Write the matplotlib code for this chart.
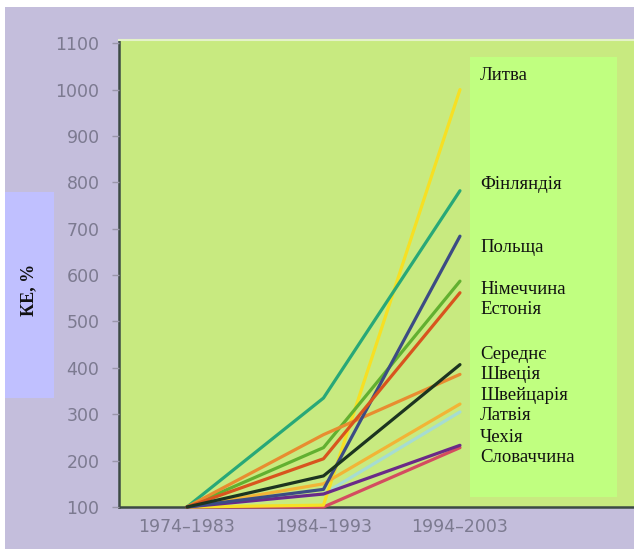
import matplotlib
matplotlib.use("Agg")
import matplotlib.pyplot as plt
from matplotlib.patches import Rectangle

# ---- data ----
periods = ['1974–1983', '1984–1993', '1994–2003']
countries = ['Литва', 'Фінляндія', 'Польща', 'Німеччина', 'Естонія',
             'Середнє', 'Швеція', 'Швейцарія', 'Латвія', 'Чехія', 'Словаччина']
lithuania = [100, 104, 1000]
finland = [100, 335, 782]
poland = [100, 138, 684]
germany = [100, 228, 587]
estonia = [100, 204, 562]
average = [100, 167, 407]
sweden = [100, 256, 386]
switzerland = [100, 150, 322]
latvia = [100, 128, 305]
czech = [100, 128, 233]
slovakia = [100, 100, 228]
yticks = [100, 200, 300, 400, 500, 600, 700, 800, 900, 1000, 1100]

series = [lithuania, finland, poland, germany, estonia, average,
          sweden, switzerland, latvia, czech, slovakia]
colors = ['#f6e024', '#28a878', '#3c4c84', '#62b030', '#d8541e',
          '#1c3420', '#e88c30', '#f2b436', '#a6dcd2', '#6a2a88', '#d44c60']
zorders = [3, 3, 4, 3, 4, 4, 3, 3, 2, 3, 2]

W, H = 634, 549
fig = plt.figure(figsize=(W / 100, H / 100), dpi=100)
fig.patch.set_facecolor('#c4bedc')

# white strips at top and left edge
fig.add_artist(Rectangle((0, 1 - 7 / H), 1, 7 / H, transform=fig.transFigure,
                         facecolor='white', edgecolor='none', zorder=0))
fig.add_artist(Rectangle((0, 0), 5 / W, 1, transform=fig.transFigure,
                         facecolor='white', edgecolor='none', zorder=0))

ax_left, ax_right, ax_top, ax_bottom = 119, 634, 40, 507
ax = fig.add_axes([ax_left / W, 1 - ax_bottom / H,
                   (ax_right - ax_left) / W, (ax_bottom - ax_top) / H])
ax.set_facecolor('#c8ea80')

x = list(range(len(periods)))
for vals, c, z in zip(series, colors, zorders):
    ax.plot(x, vals, color=c, lw=2.3, solid_capstyle='round',
            solid_joinstyle='round', zorder=z, clip_on=False)

ax.set_xlim(-0.498, 3.275)
ax.set_ylim(100, 1107)
ax.set_yticks(yticks)
ax.set_yticklabels([str(v) for v in yticks])
ax.set_xticks(x)
ax.set_xticklabels(periods)
ax.tick_params(axis='y', length=5, width=1, color='#9a96aa', pad=9,
               labelsize=12.5, labelcolor='#7c7a90')
ax.tick_params(axis='x', length=0, pad=8, labelsize=12.5, labelcolor='#7c7a90')
for lab in ax.get_xticklabels() + ax.get_yticklabels():
    lab.set_fontfamily('DejaVu Sans')

ax.spines['right'].set_visible(False)
ax.spines['top'].set_color('#e4f2c8')
ax.spines['top'].set_linewidth(1.5)
for s in ['left', 'bottom']:
    ax.spines[s].set_color('#3c4a44')
    ax.spines[s].set_linewidth(1.8)
    ax.spines[s].set_zorder(1)

# label box
bx0, bx1, by0, by1 = 470, 617, 57, 497
fig.add_artist(Rectangle((bx0 / W, 1 - by1 / H), (bx1 - bx0) / W, (by1 - by0) / H,
                         transform=fig.transFigure, facecolor='#c0ff80',
                         edgecolor='none', zorder=5))
label_y = [80, 189, 252, 294, 314, 359, 379, 400, 420, 442, 462]
for name, yy in zip(countries, label_y):
    fig.text(480 / W, 1 - yy / H, name, ha='left', va='baseline',
             fontsize=13.5, family='Liberation Serif', color='#111111', zorder=6)

# y-label box
fig.add_artist(Rectangle((5 / W, 1 - 398 / H), 49 / W, (398 - 192) / H,
                         transform=fig.transFigure, facecolor='#c0c0ff',
                         edgecolor='none', zorder=5))
fig.text(29 / W, 1 - 290 / H, 'КЕ, %', rotation=90, ha='center', va='center',
         fontsize=13, fontweight='bold', family='Liberation Serif',
         color='#111111', zorder=6)

fig.savefig('out.png', dpi=100, facecolor=fig.get_facecolor())
